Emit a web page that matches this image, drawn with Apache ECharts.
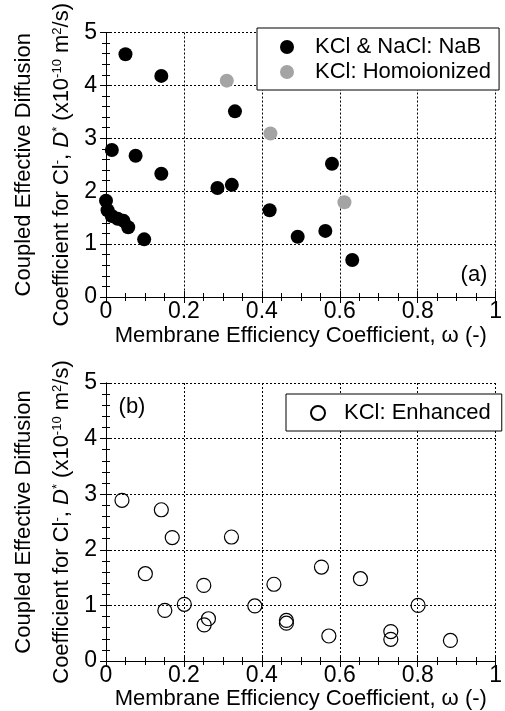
<!DOCTYPE html>
<html><head><meta charset="utf-8">
<script src="https://cdn.jsdelivr.net/npm/echarts@6/dist/echarts.min.js"></script>
<style>html,body{margin:0;padding:0;background:#fff}#c{width:505px;height:711px}</style>
</head><body><div id="c"></div>
<script>
// ---- data ----
const xTickLabels = ['0', '0.2', '0.4', '0.6', '0.8', '1'];
const yTickLabels = ['0', '1', '2', '3', '4', '5'];

const nabName = 'KCl & NaCl: NaB';
const nabOmega = [0.050, 0.142, 0.331, 0.015, 0.076, 0.142, 0.286, 0.323, 0.580, 0.000, 0.004, 0.015, 0.030, 0.045, 0.057, 0.098, 0.420, 0.492, 0.563, 0.632];
const nabD     = [4.59, 4.18, 3.51, 2.78, 2.67, 2.33, 2.06, 2.12, 2.52, 1.82, 1.64, 1.53, 1.48, 1.44, 1.32, 1.09, 1.64, 1.14, 1.25, 0.70];

const homoName = 'KCl: Homoionized';
const homoOmega = [0.310, 0.422, 0.612];
const homoD     = [4.09, 3.09, 1.79];

const enhName = 'KCl: Enhanced';
const enhOmega = [0.041, 0.142, 0.170, 0.322, 0.101, 0.251, 0.201, 0.151, 0.263, 0.252, 0.382, 0.431, 0.463, 0.463, 0.553, 0.572, 0.653, 0.801, 0.731, 0.731, 0.884];
const enhD     = [2.89, 2.72, 2.22, 2.23, 1.57, 1.36, 1.02, 0.91, 0.76, 0.65, 0.99, 1.38, 0.73, 0.68, 1.69, 0.45, 1.48, 1.00, 0.53, 0.39, 0.37];

const xTitle = 'Membrane Efficiency Coefficient, \u03c9 (-)';

// ---- chart ----
const FONT = '"Liberation Sans", Arial, Helvetica, sans-serif';
const FS = 22;
const TFS = 23;
const zip = (a, b) => a.map((v, i) => [v, b[i]]);

const yName = '{a|Coupled Effective Diffusion}\n' +
  '{b|Coefficient for Cl}{s|-}{b|, }{i|D}{s|*}{b| (x10}{s|-10}{b| m}{s|2}{b|/s)}';
const yRich = {
  a: {fontSize: FS, fontFamily: FONT, color: '#000', lineHeight: 54},
  b: {fontSize: FS, fontFamily: FONT, color: '#000', lineHeight: 22},
  i: {fontSize: FS, fontFamily: FONT, color: '#000', lineHeight: 22, fontStyle: 'italic'},
  s: {fontSize: 13, fontFamily: FONT, color: '#000', lineHeight: 12, verticalAlign: 'top'}
};

const gridLine = {show: true, lineStyle: {color: '#000', type: [2, 2], width: 1}};
const tickStyle = {color: '#000', width: 1};

function xAxes(gi, gap) {
  return [{
    type: 'value', gridIndex: gi, min: 0, max: 1, interval: 0.2, position: 'bottom',
    axisLine: {show: true, lineStyle: {color: '#000', width: 1}},
    axisTick: {show: true, inside: true, length: 6, lineStyle: tickStyle},
    minorTick: {show: true, splitNumber: 4, length: 4, lineStyle: tickStyle},
    axisLabel: {color: '#000', fontSize: TFS, fontFamily: FONT, margin: 3,
      formatter: v => xTickLabels[Math.round(v / 0.2)]},
    splitLine: gridLine,
    name: xTitle, nameLocation: 'middle', nameGap: gap,
    nameTextStyle: {color: '#000', fontSize: FS, fontFamily: FONT}
  }, {
    type: 'value', gridIndex: gi, min: 0, max: 1, interval: 0.2, position: 'top',
    axisLine: {show: true, lineStyle: {color: '#000', width: 1}},
    axisTick: {show: true, inside: true, length: 6, lineStyle: tickStyle},
    minorTick: {show: true, splitNumber: 4, length: 4, lineStyle: tickStyle},
    axisLabel: {show: false}, splitLine: {show: false}
  }];
}
function yAxes(gi) {
  return [{
    type: 'value', gridIndex: gi, min: 0, max: 5, interval: 1, position: 'left',
    axisLine: {show: true, lineStyle: {color: '#000', width: 1}},
    axisTick: {show: true, inside: true, length: 6, lineStyle: tickStyle},
    minorTick: {show: true, splitNumber: 5, length: 4, lineStyle: tickStyle},
    axisLabel: {color: '#000', fontSize: TFS, fontFamily: FONT, margin: 9,
      formatter: v => yTickLabels[Math.round(v)]},
    splitLine: gridLine,
    name: yName, nameLocation: 'middle', nameRotate: 90, nameGap: 32,
    nameTextStyle: {rich: yRich, align: 'center'}
  }, {
    type: 'value', gridIndex: gi, min: 0, max: 5, interval: 1, position: 'right',
    axisLine: {show: true, lineStyle: {color: '#000', width: 1}},
    axisTick: {show: true, inside: true, length: 6, lineStyle: tickStyle},
    minorTick: {show: true, splitNumber: 5, length: 4, lineStyle: tickStyle},
    axisLabel: {show: false}, splitLine: {show: false}
  }];
}

const option = {
  animation: false,
  backgroundColor: '#fff',
  grid: [
    {left: 106, top: 19, width: 396, height: 278},
    {left: 106, top: 383, width: 396, height: 278}
  ],
  xAxis: [...xAxes(0, 28), ...xAxes(1, 24)],
  yAxis: [...yAxes(0), ...yAxes(1)],
  legend: [{
    data: [nabName, homoName], left: 257, top: 28, orient: 'vertical',
    padding: [8, 8, 7, 23], itemGap: 3, itemWidth: 14, itemHeight: 14,
    borderColor: '#000', borderWidth: 1, backgroundColor: '#fff', borderRadius: 0,
    icon: 'circle', selectedMode: false,
    textStyle: {fontSize: FS, color: '#000', fontFamily: FONT, padding: [0, 0, 0, 16]}
  }, {
    data: [enhName], left: 286, top: 394, orient: 'vertical',
    padding: [8, 11, 7, 24], itemWidth: 14, itemHeight: 14,
    borderColor: '#000', borderWidth: 1, backgroundColor: '#fff', borderRadius: 0,
    icon: 'circle', selectedMode: false,
    textStyle: {fontSize: FS, color: '#000', fontFamily: FONT, padding: [0, 0, 0, 14]}
  }],
  graphic: [
    {type: 'text', x: 474, y: 275, style: {text: '(a)', fontSize: FS, fontFamily: FONT, fill: '#000', align: 'center', verticalAlign: 'middle'}, z: 100},
    {type: 'text', x: 132, y: 407, style: {text: '(b)', fontSize: FS, fontFamily: FONT, fill: '#000', align: 'center', verticalAlign: 'middle'}, z: 100}
  ],
  series: [
    {name: nabName, type: 'scatter', xAxisIndex: 0, yAxisIndex: 0, data: zip(nabOmega, nabD),
      symbol: 'circle', symbolSize: 14, itemStyle: {color: '#000', opacity: 1}},
    {name: homoName, type: 'scatter', xAxisIndex: 0, yAxisIndex: 0, data: zip(homoOmega, homoD),
      symbol: 'circle', symbolSize: 14, itemStyle: {color: '#a4a4a4', opacity: 1}},
    {name: enhName, type: 'scatter', xAxisIndex: 2, yAxisIndex: 2, data: zip(enhOmega, enhD),
      symbol: 'circle', symbolSize: 14, itemStyle: {color: 'rgba(255,255,255,0)', borderColor: '#000', borderWidth: 1.2, opacity: 1}}
  ]
};

const chart = echarts.init(document.getElementById('c'), null, {renderer: 'canvas'});
chart.setOption(option);
</script>
</body></html>
